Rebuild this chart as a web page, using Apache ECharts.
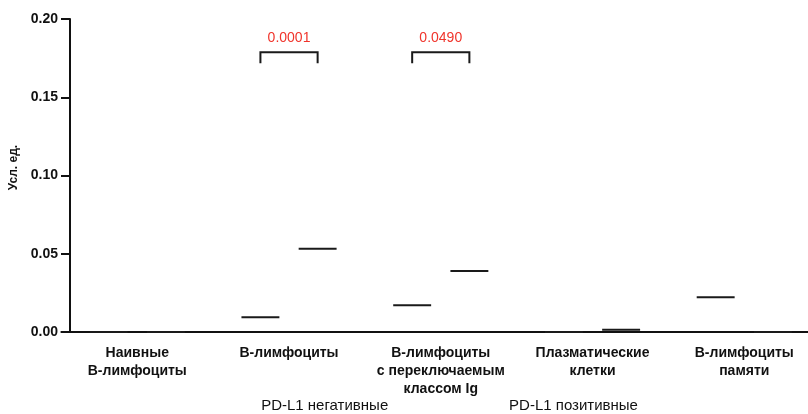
<!DOCTYPE html>
<html>
<head>
<meta charset="utf-8">
<script src="https://cdn.jsdelivr.net/npm/echarts@6/dist/echarts.min.js"></script>
<style>
html,body{margin:0;padding:0;background:#fff;}
#chart{width:808px;height:414px;}
</style>
</head>
<body>
<div id="chart"></div>
<script>
// ---- data ----
var categories = ['Наивные\nВ-лимфоциты', 'В-лимфоциты', 'В-лимфоциты\nс переключаемым\nклассом Ig', 'Плазматические\nклетки', 'В-лимфоциты\nпамяти'];
var seriesNames = ['PD-L1 негативные', 'PD-L1 позитивные'];
var negativeValues = [0, 0.0094, 0.0171, 0, 0.0222];
var positiveValues = [0, 0.0532, 0.0390, 0.0014, 0];
var comparisonIndex = [1, 2];
var pValues = ['0.0001', '0.0490'];
var bracketTop = [0.1787, 0.1787];
var bracketLeg = [0.1717, 0.1717];
var pLabelY = [0.1880, 0.1880];
var yTicks = [0, 0.05, 0.10, 0.15, 0.20];

var FONT = 'Liberation Sans, Arial, Helvetica, sans-serif';
var GROUP_OFFSET = 0.1885; // fraction of band
var HALF_LEN = 0.125;      // fraction of band

function medianRender(sign) {
  return function (params, api) {
    var v = api.value(1);
    if (v == null || isNaN(v)) return null;
    var c = api.coord([api.value(0), v]);
    var band = api.size([1, 0])[0];
    var cx = c[0] + sign * band * GROUP_OFFSET;
    return {
      type: 'line',
      shape: { x1: cx - band * HALF_LEN, y1: c[1], x2: cx + band * HALF_LEN, y2: c[1] },
      style: { stroke: '#1a1a1a', lineWidth: 2 }
    };
  };
}

function bracketRender(params, api) {
  var cat = api.value(0);
  var top = api.coord([cat, api.value(1)]);
  var leg = api.coord([cat, api.value(2)]);
  var lab = api.coord([cat, api.value(3)]);
  var band = api.size([1, 0])[0];
  var lx = top[0] - band * GROUP_OFFSET;
  var rx = top[0] + band * GROUP_OFFSET;
  return {
    type: 'group',
    children: [
      {
        type: 'polyline',
        shape: { points: [[lx, leg[1]], [lx, top[1]], [rx, top[1]], [rx, leg[1]]] },
        style: { stroke: '#1a1a1a', lineWidth: 2, fill: null }
      },
      {
        type: 'text',
        x: top[0], y: lab[1],
        style: {
          text: pValues[params.dataIndex],
          fill: '#f0342b',
          font: '14px ' + FONT,
          align: 'center',
          verticalAlign: 'middle'
        }
      }
    ]
  };
}

var negData = negativeValues.map(function (v, i) { return [i, v]; });
var posData = positiveValues.map(function (v, i) { return [i, v]; });
var bracketData = comparisonIndex.map(function (c, i) { return [c, bracketTop[i], bracketLeg[i], pLabelY[i]]; });

var chart = echarts.init(document.getElementById('chart'), null, { renderer: 'canvas' });
chart.setOption({
  animation: false,
  backgroundColor: '#ffffff',
  grid: [
    { left: 70, right: 0, top: 19, bottom: 82, containLabel: false, outerBoundsMode: 'none' },
    { left: 61.4, width: 758.75, top: 19, bottom: 82, containLabel: false, outerBoundsMode: 'none' }
  ],
  xAxis: [
    { gridIndex: 0, type: 'value', show: false, min: 0, max: 1 },
    {
      gridIndex: 1, type: 'category', data: categories,
      axisLine: { lineStyle: { color: '#111', width: 2 } },
      axisTick: { alignWithLabel: true, length: 9, lineStyle: { color: '#111', width: 2 } },
      axisLabel: {
        interval: 0, margin: 12, color: '#111', fontWeight: 'bold',
        fontSize: 14, lineHeight: 18, fontFamily: FONT, align: 'center'
      },
      splitLine: { show: false }
    }
  ],
  yAxis: [
    {
      gridIndex: 0, type: 'value', min: yTicks[0], max: yTicks[yTicks.length - 1], interval: 0.05,
      name: 'Усл. ед.', nameLocation: 'middle', nameGap: 40, nameRotate: 90,
      nameTextStyle: { color: '#111', fontWeight: 'bold', fontSize: 12, fontFamily: FONT, padding: [0, 0, 0, 16] },
      axisLine: { show: true, lineStyle: { color: '#111', width: 2 } },
      axisTick: { show: true, length: 9, lineStyle: { color: '#111', width: 2 } },
      axisLabel: {
        margin: 12, color: '#111', fontWeight: 'bold', fontSize: 14, fontFamily: FONT,
        formatter: function (v) { return v.toFixed(2); }
      },
      splitLine: { show: false }
    },
    { gridIndex: 1, type: 'value', show: false, min: yTicks[0], max: yTicks[yTicks.length - 1] }
  ],
  series: [
    {
      name: seriesNames[0], type: 'custom', xAxisIndex: 1, yAxisIndex: 1,
      renderItem: medianRender(-1), data: negData, z: 5
    },
    {
      name: seriesNames[1], type: 'custom', xAxisIndex: 1, yAxisIndex: 1,
      renderItem: medianRender(1), data: posData, z: 5
    },
    {
      name: 'brackets', type: 'custom', xAxisIndex: 1, yAxisIndex: 1,
      renderItem: bracketRender, data: bracketData, z: 5
    }
  ],
  graphic: [
    { type: 'text', x: 324.7, y: 406, style: { text: seriesNames[0], fill: '#111', font: '15px ' + FONT, align: 'center', verticalAlign: 'middle' } },
    { type: 'text', x: 573.5, y: 406, style: { text: seriesNames[1], fill: '#111', font: '15px ' + FONT, align: 'center', verticalAlign: 'middle' } }
  ]
});
</script>
</body>
</html>
